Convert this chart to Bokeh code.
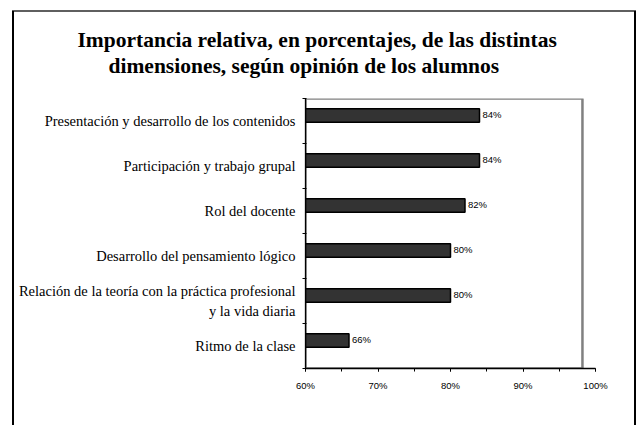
from bokeh.plotting import figure
from bokeh.models import Range1d, FixedTicker, BoxAnnotation, Title
from bokeh.core.properties import value
from bokeh.embed import file_html
from bokeh.resources import INLINE

# ---- data ----
categories = [
    "Presentación y desarrollo de los contenidos",
    "Participación y trabajo grupal",
    "Rol del docente",
    "Desarrollo del pensamiento lógico",
    "Relación de la teoría con la práctica profesional\ny la vida diaria",
    "Ritmo de la clase",
]
values = [84, 84, 82, 80, 80, 66]
value_labels = ["84%", "84%", "82%", "80%", "80%", "66%"]
x_ticks = [60, 70, 80, 90, 100]
x_tick_labels = ["60%", "70%", "80%", "90%", "100%"]
title_lines = [
    "Importancia relativa, en porcentajes, de las distintas",
    "dimensiones, según opinión de los alumnos",
]

SERIF = "Liberation Serif"
SANS = "Liberation Sans"

n = len(categories)
centers = [2 * (n - i) - 1 for i in range(n)]
bar_y = [c + 0.25 for c in centers]

FRAME_LEFT = 305
frame_css = {
    "background-image": "linear-gradient(#000,#000), linear-gradient(#000,#000), "
                        "linear-gradient(#5f5f5f,#5f5f5f)",
    "background-size": "2px 420px, 2px 420px, 624px 2px",
    "background-position": "12px 11px, 634px 11px, 12px 10px",
    "background-repeat": "no-repeat",
    "background-color": "white",
}

p = figure(width=639, height=425, output_backend="svg", toolbar_location=None,
           x_range=Range1d(x_ticks[0], x_ticks[-1]), y_range=Range1d(0, 2 * n),
           min_border_left=FRAME_LEFT, min_border_right=44, min_border_top=98,
           min_border_bottom=57, styles=frame_css)
p.outline_line_color = None
p.xgrid.visible = False
p.ygrid.visible = False
p.background_fill_color = "white"
p.border_fill_color = None

# plot-area border (gray, top and right visible)
p.add_layout(BoxAnnotation(left=60, right=98.2, top=2 * n, bottom=0,
                           fill_color=None, fill_alpha=0, line_color="#808080",
                           line_alpha=1.0, line_width=2.5, level="underlay"))

p.hbar(y=bar_y, left=x_ticks[0], right=values, height=0.6,
       fill_color="#333333", line_color="black", line_width=1.5)

p.text(x=values, y=bar_y, text=value_labels, x_offset=3, y_offset=-1,
       text_baseline="middle", text_align="left",
       text_font=value(SANS), text_font_size="9.5px", text_color="black")

# x axis
xa = p.xaxis[0]
minor_x = sorted(set(x_ticks + [(a + b) / 2 for a, b in zip(x_ticks[:-1], x_ticks[1:])]))
xa.ticker = FixedTicker(ticks=x_ticks, minor_ticks=minor_x)
xa.major_label_overrides = {t: l for t, l in zip(x_ticks, x_tick_labels)}
xa.major_tick_out = 3
xa.major_tick_in = 0
xa.minor_tick_out = 3
xa.minor_tick_in = 0
xa.axis_line_color = "black"
xa.axis_line_width = 1.3
xa.major_tick_line_color = "black"
xa.minor_tick_line_color = "black"
xa.major_label_text_font = SANS
xa.major_label_text_font_size = "9.5px"
xa.major_label_text_color = "black"
xa.major_label_standoff = 8

# y axis
ya = p.yaxis[0]
ya.ticker = FixedTicker(ticks=centers, minor_ticks=list(range(0, 2 * n + 1, 2)))
ya.major_label_overrides = {c: cat for c, cat in zip(centers, categories)}
ya.major_tick_out = 0
ya.major_tick_in = 0
ya.minor_tick_out = 3
ya.minor_tick_in = 1
ya.axis_line_color = "black"
ya.axis_line_width = 1.3
ya.minor_tick_line_color = "black"
ya.major_label_text_font = SERIF
ya.major_label_text_font_size = "14.5px"
ya.major_label_text_color = "black"
ya.major_label_standoff = 7

# title: spacer closest to the frame, then line 2, then line 1 (p.title, outermost)
title_style = dict(align="left", text_font=SERIF, text_font_size="21.5px",
                   text_font_style="bold", text_color="black", standoff=0)
p.add_layout(Title(text=" ", text_font_size="1px", standoff=18), "above")
p.add_layout(Title(text=title_lines[1], offset=108 - FRAME_LEFT, **title_style), "above")
p.title = Title(text=title_lines[0], offset=77 - FRAME_LEFT, **title_style)

open("out.html", "w").write(file_html(p, INLINE))
